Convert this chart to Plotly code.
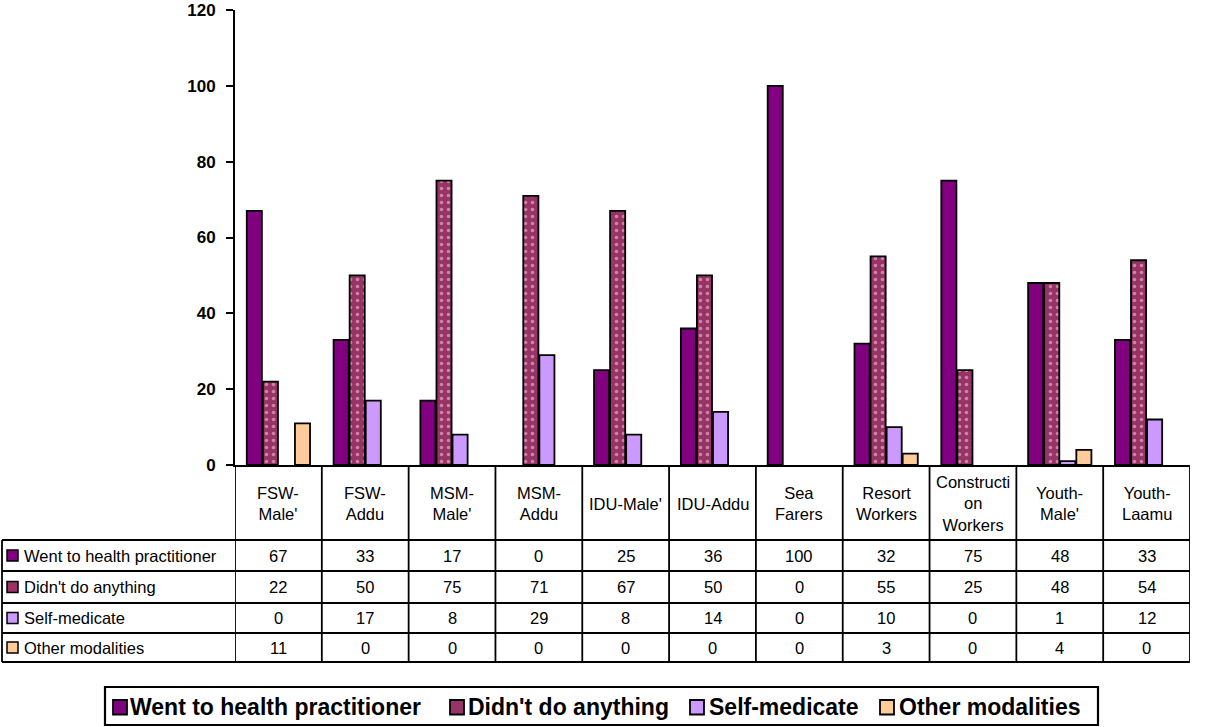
import plotly.graph_objects as go

categories = ["FSW-<br>Male'", "FSW-<br>Addu", "MSM-<br>Male'", "MSM-<br>Addu", "IDU-Male'",
              "IDU-Addu", "Sea<br>Farers", "Resort<br>Workers", "Constructi<br>on<br>Workers",
              "Youth-<br>Male'", "Youth-<br>Laamu"]
series_names = ["Went to health practitioner", "Didn't do anything", "Self-medicate", "Other modalities"]
went = [67, 33, 17, 0, 25, 36, 100, 32, 75, 48, 33]
didnt = [22, 50, 75, 71, 67, 50, 0, 55, 25, 48, 54]
selfmed = [0, 17, 8, 29, 8, 14, 0, 10, 0, 1, 12]
other = [11, 0, 0, 0, 0, 0, 0, 3, 0, 4, 0]
y_ticks = [0, 20, 40, 60, 80, 100, 120]

series_values = [went, didnt, selfmed, other]
colors = ["#800080", "#993366", "#CC99FF", "#FFCC99"]

W, H = 1206, 727
L, R, T, B = 235, 1190, 10, 465
FONT = "Arial, Liberation Sans, sans-serif"


def PX(x):
    return (x - L) / (R - L)


def PY(y):
    return (B - y) / (B - T)


n = len(categories)
xs = list(range(n))
fig = go.Figure()
for k, (name, vals, col) in enumerate(zip(series_names, series_values, colors)):
    marker = dict(color=col,
                  line=dict(color="black", width=[1.8 if v > 0 else 0 for v in vals]))
    if k == 1:
        marker["pattern"] = dict(shape=".", fgcolor="#F4DDEA", bgcolor=col, size=7, solidity=0.2)
    fig.add_trace(go.Bar(x=xs, y=vals, name=name, marker=marker, showlegend=False))

shapes = []
annotations = []
row_lines = [540, 571, 603, 633, 662]
line = dict(color="black", width=1.8)
for yl in row_lines:
    shapes.append(dict(type="line", xref="paper", yref="paper", x0=PX(2), x1=PX(R),
                       y0=PY(yl), y1=PY(yl), line=line))
for i in range(n + 1):
    shapes.append(dict(type="line", xref="x", yref="paper", x0=i - 0.5, x1=i - 0.5,
                       y0=PY(B), y1=PY(662), line=line))
shapes.append(dict(type="line", xref="paper", yref="paper", x0=PX(2), x1=PX(2),
                   y0=PY(540), y1=PY(662), line=line))

TFS = 16.5
for i, c in enumerate(categories):
    annotations.append(dict(xref="x", yref="paper", x=i, y=PY(504), text=c, showarrow=False,
                            font=dict(family=FONT, size=TFS, color="black"),
                            xanchor="center", yanchor="middle", align="center"))
for r, (name, vals, col) in enumerate(zip(series_names, series_values, colors)):
    yc = (row_lines[r] + row_lines[r + 1]) / 2
    shapes.append(dict(type="rect", xref="paper", yref="paper", x0=PX(7), x1=PX(18),
                       y0=PY(yc - 5.5), y1=PY(yc + 5.5), fillcolor=col,
                       line=dict(color="black", width=1.5)))
    annotations.append(dict(xref="paper", yref="paper", x=PX(22), y=PY(yc), text=name,
                            showarrow=False, xanchor="left", yanchor="middle",
                            font=dict(family=FONT, size=TFS, color="black")))
    for i, v in enumerate(vals):
        annotations.append(dict(xref="x", yref="paper", x=i, y=PY(yc), text=str(v),
                                showarrow=False, xanchor="center", yanchor="middle",
                                font=dict(family=FONT, size=TFS, color="black")))

# bottom legend (drawn as box + swatches + labels)
shapes.append(dict(type="rect", xref="paper", yref="paper", x0=PX(105), x1=PX(1098),
                   y0=PY(687), y1=PY(725), line=dict(color="black", width=2.2),
                   fillcolor="rgba(0,0,0,0)"))
leg_sq = [113, 450, 690, 880]
leg_tx = [130, 468, 709, 899]
for name, col, sx, tx in zip(series_names, colors, leg_sq, leg_tx):
    shapes.append(dict(type="rect", xref="paper", yref="paper", x0=PX(sx), x1=PX(sx + 14),
                       y0=PY(700), y1=PY(714.5), fillcolor=col,
                       line=dict(color="black", width=1.8)))
    annotations.append(dict(xref="paper", yref="paper", x=PX(tx - 2), y=PY(707), text=name,
                            showarrow=False, xanchor="left", yanchor="middle",
                            font=dict(family=FONT, size=23, color="black", weight="bold")))

fig.update_layout(
    width=W, height=H,
    margin=dict(l=L, r=W - R, t=T, b=H - B, pad=0, autoexpand=False),
    paper_bgcolor="white", plot_bgcolor="white",
    barmode="group", bargap=0.26, bargroupgap=0.06,
    showlegend=False,
    shapes=shapes, annotations=annotations,
    font=dict(family=FONT, color="black"),
)
fig.update_xaxes(range=[-0.5, n - 0.5], showticklabels=False, showline=True, linecolor="black",
                 linewidth=2, ticks="", showgrid=False, zeroline=False, fixedrange=True,
                 automargin=False)
fig.update_yaxes(range=[0, 120], tickvals=y_ticks, showline=True, linecolor="black", linewidth=2,
                 ticks="outside", ticklen=7, tickwidth=2, tickcolor="black", showgrid=False,
                 zeroline=False, ticklabelstandoff=7, automargin=False,
                 tickfont=dict(family=FONT, size=17, color="black", weight="bold"),
                 fixedrange=True)

fig.write_html("out.html", post_script="document.body.style.margin='0px';",
               config={"displayModeBar": False})
